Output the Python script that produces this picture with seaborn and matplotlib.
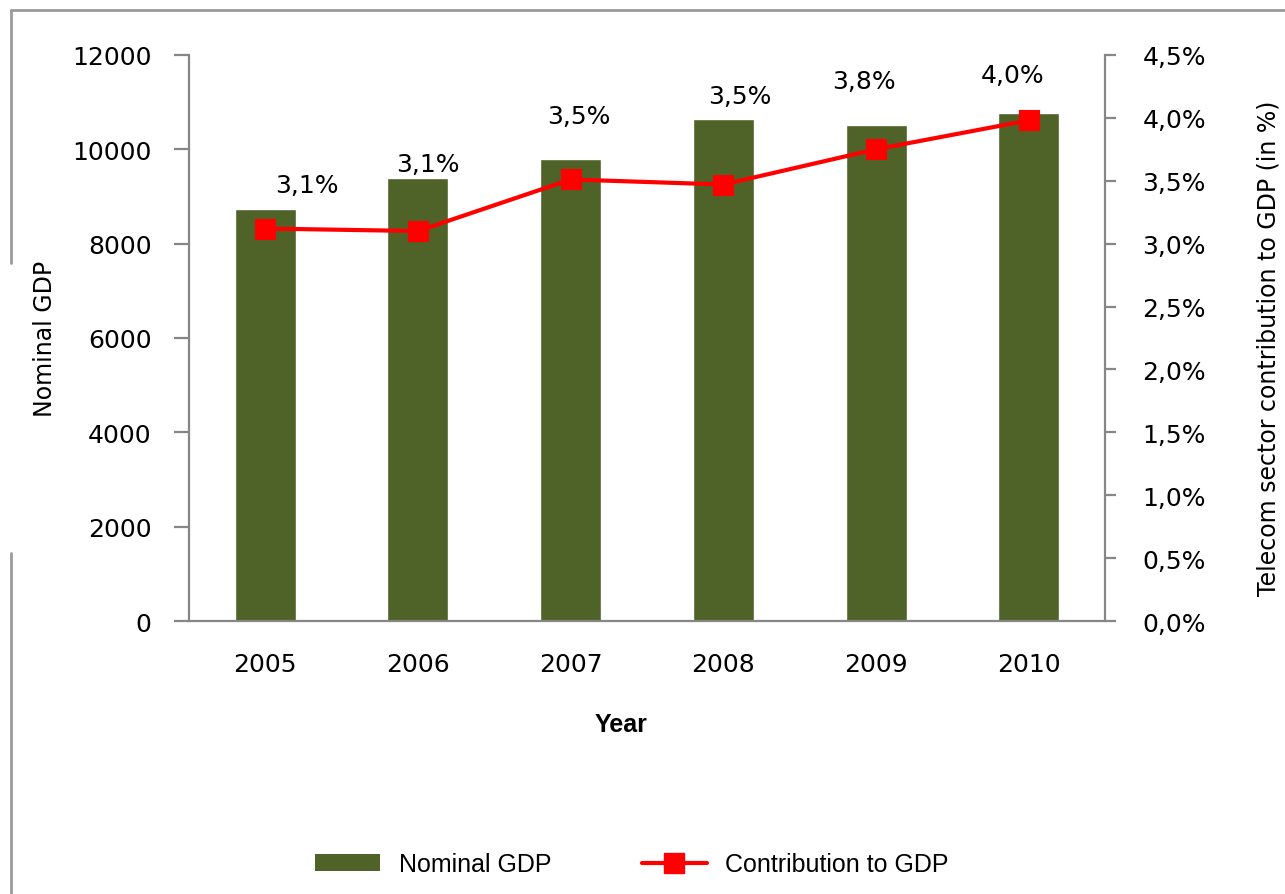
import matplotlib
matplotlib.use("Agg")
import matplotlib.pyplot as plt
from matplotlib.lines import Line2D
from matplotlib.patches import Patch
from matplotlib.ticker import FuncFormatter, MultipleLocator
import seaborn as sns
import pandas as pd
import numpy as np

years = ["2005", "2006", "2007", "2008", "2009", "2010"]
nominal_gdp = [8730, 9390, 9795, 10640, 10515, 10770]
contribution = [3.12, 3.10, 3.51, 3.47, 3.75, 3.98]
label_text = ["3,1%", "3,1%", "3,5%", "3,5%", "3,8%", "4,0%"]
# label offsets from each point (points), hand placed like in the original
label_dx = [30, 7, 6, 12, -9, -12]
label_dy = [31, 48, 46, 64, 49, 33]

bar_color = "#4F6228"
axis_grey = "#868686"

sns.set_style("white")
plt.rcParams["font.family"] = ["DejaVu Sans"]
plt.rcParams["text.color"] = "black"
plt.rcParams["axes.labelcolor"] = "black"
plt.rcParams["xtick.labelcolor"] = "black"
plt.rcParams["ytick.labelcolor"] = "black"

df = pd.DataFrame({"year": years, "gdp": nominal_gdp, "pct": contribution})

fig = plt.figure(figsize=(12.85, 8.95), dpi=100)
ax = fig.add_axes([0.147, 0.305, 0.713, 0.6325])

sns.barplot(data=df, x="year", y="gdp", color=bar_color, saturation=1,
            width=0.4, ax=ax)

ax2 = ax.twinx()
sns.pointplot(data=df, x="year", y="pct", color="red", markers="s",
              markersize=13, linewidth=3, ax=ax2)

for i, (v, t) in enumerate(zip(contribution, label_text)):
    ax2.annotate(t, (i, v), xytext=(label_dx[i], label_dy[i]),
                 textcoords="offset points", ha="center", va="center",
                 fontsize=18, color="black")

ax.set_xlim(-0.5, 5.5)
ax2.set_xlim(-0.5, 5.5)
ax.set_ylim(0, 12000)
ax2.set_ylim(0, 4.5)
ax.yaxis.set_major_locator(MultipleLocator(2000))
ax2.yaxis.set_major_locator(MultipleLocator(0.5))
ax2.yaxis.set_major_formatter(FuncFormatter(lambda v, p: f"{v:.1f}%".replace(".", ",")))

# category ticks sit between the bars, labels in the middle
ax.set_xticks(np.arange(-0.5, 6, 1), minor=True)
ax.tick_params(axis="x", which="major", length=0, pad=22, labelsize=18)
ax.tick_params(axis="x", which="minor", length=8, width=1.6, color=axis_grey)
ax.tick_params(axis="y", length=11, width=1.6, color=axis_grey, labelsize=18, pad=16)
ax2.tick_params(axis="y", length=8, width=1.6, color=axis_grey, labelsize=18, pad=19)

for a in (ax, ax2):
    a.spines["top"].set_visible(False)
    for s in ("left", "right", "bottom"):
        a.spines[s].set_color(axis_grey)
        a.spines[s].set_linewidth(1.6)
ax.spines["right"].set_visible(False)
ax2.spines["left"].set_visible(False)
ax2.spines["bottom"].set_visible(False)

ax.set_xlabel("Year", fontsize=18, fontweight="bold",
              family=["Liberation Sans", "DejaVu Sans"])
ax.xaxis.set_label_coords(0.472, -0.16)
ax.set_ylabel("Nominal GDP", fontsize=17)
ax.yaxis.set_label_coords(-0.144, 0.5)
ax2.set_ylabel("Telecom sector contribution to GDP (in %)", fontsize=17)
ax2.yaxis.set_label_coords(1.165, 0.484)

handles = [Patch(facecolor=bar_color, edgecolor="none"),
           Line2D([], [], color="red", lw=3, marker="s", markersize=14)]
fig.legend(handles, ["Nominal GDP", "Contribution to GDP"], loc="center",
           bbox_to_anchor=(0.492, 0.033), ncol=2, frameon=False,
           prop={"family": ["Liberation Sans", "DejaVu Sans"], "size": 18},
           handlelength=2.6, handleheight=0.65, columnspacing=3.6, handletextpad=0.75)

# outer frame from the original slide
fr = dict(color="#9A9A9A", lw=2, transform=fig.transFigure)
fig.add_artist(Line2D([11 / 1285, 1], [1 - 11 / 895, 1 - 11 / 895], **fr))
fig.add_artist(Line2D([11 / 1285, 11 / 1285], [1 - 11 / 895, 1 - 264 / 895], **fr))
fig.add_artist(Line2D([11 / 1285, 11 / 1285], [1 - 554 / 895, 0], **fr))

fig.savefig("out.png", dpi=100)
